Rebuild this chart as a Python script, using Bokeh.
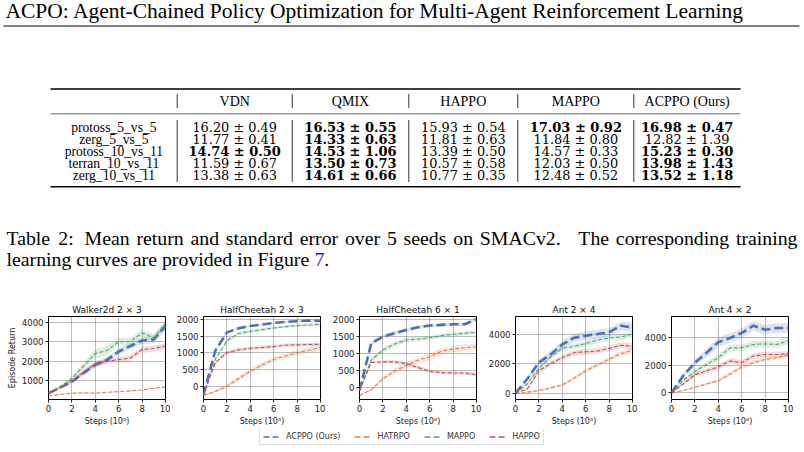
from bokeh.plotting import figure
from bokeh.layouts import column, row
from bokeh.models import Range1d, Legend, LegendItem, FixedTicker
from bokeh.embed import file_html
from bokeh.resources import INLINE
from bokeh.core.properties import value

SERIF = "Liberation Serif"
NUMF = "DejaVu Serif"
SANS = "DejaVu Sans"

# ---------------- text content ----------------
header_title = "ACPO: Agent-Chained Policy Optimization for Multi-Agent Reinforcement Learning"
caption_words = ["Table", "2:", "Mean", "return", "and", "standard", "error", "over", "5", "seeds",
                 "on", "SMACv2.", "The", "corresponding", "training"]
caption_line2 = "learning curves are provided in Figure"
caption_ref = "7"

# ---------------- table data ----------------
table_columns = ["VDN", "QMIX", "HAPPO", "MAPPO", "ACPPO (Ours)"]
table_rows = ["protoss_5_vs_5", "zerg_5_vs_5", "protoss_10_vs_11", "terran_10_vs_11", "zerg_10_vs_11"]
vdn_mean = [16.20, 11.77, 14.74, 11.59, 13.38]
vdn_se = [0.49, 0.41, 0.50, 0.67, 0.63]
qmix_mean = [16.53, 14.33, 14.53, 13.50, 14.61]
qmix_se = [0.55, 0.63, 1.06, 0.73, 0.66]
happo_mean = [15.93, 11.81, 13.39, 10.57, 10.77]
happo_se = [0.54, 0.63, 0.50, 0.58, 0.35]
mappo_mean = [17.03, 11.84, 14.57, 12.03, 12.48]
mappo_se = [0.92, 0.80, 0.33, 0.50, 0.52]
acppo_mean = [16.98, 12.82, 15.23, 13.98, 13.52]
acppo_se = [0.47, 1.39, 0.30, 1.43, 1.18]
vdn_bold = [False, False, True, False, False]
qmix_bold = [True, True, True, True, True]
happo_bold = [False, False, False, False, False]
mappo_bold = [True, False, False, False, False]
acppo_bold = [True, False, True, True, True]

# ---------------- learning-curve data ----------------
steps = [0, 1, 2, 3, 4, 5, 6, 7, 8, 9, 10]
x_ticks = [0, 2, 4, 6, 8, 10]
methods = ["ACPPO (Ours)", "HATRPO", "MAPPO", "HAPPO"]
colors = ["#4c72b0", "#dd8452", "#55a868", "#c44e52"]

walker_title = "Walker2d 2 \u00d7 3"
walker_acppo = [360, 650, 950, 1400, 1820, 2070, 2500, 2780, 3060, 3120, 3800]
walker_hatrpo = [230, 300, 360, 380, 370, 410, 440, 480, 530, 620, 680]
walker_mappo = [370, 700, 1120, 1750, 2400, 2550, 3000, 3000, 3450, 3200, 3950]
walker_happo = [360, 650, 1010, 1440, 1860, 2000, 2080, 2160, 2600, 2650, 2780]
walker_acppo_err = [20, 60, 80, 120, 150, 150, 170, 170, 180, 200, 220]
walker_hatrpo_err = [10, 20, 25, 30, 30, 30, 35, 35, 40, 45, 50]
walker_mappo_err = [20, 60, 100, 180, 230, 230, 200, 200, 180, 200, 150]
walker_happo_err = [20, 60, 80, 120, 130, 130, 140, 150, 160, 160, 170]
walker_yticks = [1000, 2000, 3000, 4000]
walker_yrange = (40, 4290)

hc23_title = "HalfCheetah 2 \u00d7 3"
hc23_acppo = [-240, 1060, 1610, 1730, 1800, 1840, 1890, 1920, 1940, 1960, 1950]
hc23_hatrpo = [-260, -140, 10, 240, 460, 640, 810, 910, 1010, 1080, 1160]
hc23_mappo = [-250, 810, 1360, 1580, 1640, 1690, 1740, 1780, 1810, 1830, 1850]
hc23_happo = [-250, 710, 1010, 1090, 1140, 1160, 1190, 1230, 1240, 1250, 1260]
hc23_acppo_err = [20, 40, 40, 35, 30, 30, 30, 30, 30, 30, 30]
hc23_hatrpo_err = [20, 40, 60, 70, 80, 80, 80, 80, 80, 80, 80]
hc23_mappo_err = [20, 40, 50, 45, 40, 40, 40, 40, 35, 35, 35]
hc23_happo_err = [20, 50, 50, 50, 50, 50, 50, 50, 50, 50, 50]
hc23_yticks = [0, 500, 1000, 1500, 2000]
hc23_yrange = (-380, 2080)

hc61_title = "HalfCheetah 6 \u00d7 1"
hc61_acppo = [-100, 1300, 1500, 1600, 1700, 1780, 1830, 1850, 1870, 1870, 2020]
hc61_hatrpo = [-250, -80, 250, 470, 650, 800, 900, 1070, 1130, 1170, 1200]
hc61_mappo = [-100, 800, 1100, 1280, 1400, 1430, 1470, 1530, 1570, 1600, 1630]
hc61_happo = [-100, 730, 750, 750, 700, 580, 470, 430, 420, 420, 370]
hc61_acppo_err = [20, 60, 60, 60, 50, 50, 50, 50, 50, 50, 40]
hc61_hatrpo_err = [20, 40, 60, 80, 90, 90, 100, 100, 100, 100, 100]
hc61_mappo_err = [20, 70, 80, 80, 70, 70, 60, 60, 60, 60, 60]
hc61_happo_err = [20, 40, 40, 50, 50, 60, 60, 50, 50, 50, 50]
hc61_yticks = [0, 500, 1000, 1500, 2000]
hc61_yrange = (-370, 2100)

ant24_title = "Ant 2 \u00d7 4"
ant24_acppo = [0, 970, 2090, 2650, 3330, 3780, 3930, 4040, 4160, 4610, 4490]
ant24_hatrpo = [-40, 70, 180, 360, 560, 1030, 1530, 1930, 2310, 2700, 2920]
ant24_mappo = [0, 630, 1710, 2470, 3060, 3210, 3390, 3620, 3780, 3840, 4040]
ant24_happo = [0, 290, 1530, 2020, 2430, 2760, 2830, 2880, 3060, 3280, 3210]
ant24_acppo_err = [20, 120, 180, 220, 260, 280, 280, 280, 280, 300, 300]
ant24_hatrpo_err = [20, 40, 60, 80, 100, 120, 140, 150, 160, 170, 180]
ant24_mappo_err = [20, 100, 150, 180, 200, 200, 200, 200, 200, 200, 200]
ant24_happo_err = [20, 80, 150, 180, 200, 200, 200, 200, 200, 200, 200]
ant24_yticks = [0, 2000, 4000]
ant24_yrange = (-430, 5240)

ant42_title = "Ant 4 \u00d7 2"
ant42_acppo = [0, 1250, 2200, 2920, 3690, 4000, 4360, 4890, 4600, 4720, 4720]
ant42_hatrpo = [0, 170, 410, 650, 890, 1370, 1890, 2200, 2440, 2560, 2750]
ant42_mappo = [0, 890, 1560, 2080, 2560, 3280, 3280, 3520, 3570, 3520, 3810]
ant42_happo = [0, 650, 1320, 1600, 1890, 2320, 2200, 2680, 2800, 2800, 2870]
ant42_acppo_err = [20, 150, 250, 300, 350, 350, 350, 350, 350, 350, 350]
ant42_hatrpo_err = [20, 50, 80, 100, 120, 150, 150, 150, 150, 150, 150]
ant42_mappo_err = [20, 120, 180, 200, 250, 250, 250, 250, 250, 250, 250]
ant42_happo_err = [20, 100, 150, 180, 200, 200, 200, 200, 200, 200, 200]
ant42_yticks = [0, 2000, 4000]
ant42_yrange = (-480, 5560)

# Times / Liberation Serif advance widths (per 1000 em) used to justify the caption
TIMES_W = {"T": 611, "a": 444, "b": 500, "l": 278, "e": 444, "2": 500, ":": 278, "M": 889,
           "n": 500, "r": 333, "t": 278, "u": 500, "d": 500, "s": 389, "o": 500, "v": 500,
           "5": 500, "S": 556, "A": 722, "C": 667, ".": 250, "h": 500, "c": 444, "p": 500,
           "i": 278, "g": 500, "F": 556, "7": 500, " ": 250}


def tw(s, size):
    return sum(TIMES_W.get(ch, 500) for ch in s) * size / 1000.0


# ---------------- page (header, table, caption) ----------------
PAGE_H = 292
page = figure(width=804, height=PAGE_H, x_range=Range1d(0, 804), y_range=Range1d(PAGE_H, 0),
              x_axis_location=None, y_axis_location=None, min_border=0,
              toolbar_location=None, output_backend="svg", outline_line_color=None)
page.grid.visible = False


def put(x, y, t, size, font=SERIF, style="normal", align="left", color="black", baseline="middle"):
    page.text(x=x, y=y, text=t, text_font=value(font), text_font_size=size,
              text_font_style=style, text_align=align, text_baseline=baseline, text_color=color)


# running header
put([5], [10.5], [header_title], "21.5px")
page.segment(x0=[3], y0=[25.5], x1=[799], y1=[25.5], line_color="black", line_width=1)

# table geometry
bounds = [50, 176.7, 291.7, 408.3, 517.3, 633.3, 740]
centers = [(a + b) / 2 for a, b in zip(bounds[:-1], bounds[1:])]
head_y = 100.5
row_y = [126.7 + 12.15 * i for i in range(len(table_rows))]

page.segment(x0=[bounds[0]] * 2, y0=[88.5, 186.3], x1=[bounds[-1]] * 2, y1=[88.5, 186.3],
             line_color="black", line_width=1.5)
page.segment(x0=[bounds[0]], y0=[113.3], x1=[bounds[-1]], y1=[113.3],
             line_color="#555555", line_width=0.9)
inner = bounds[1:-1]
page.segment(x0=inner, y0=[93.5] * len(inner), x1=inner, y1=[107.5] * len(inner),
             line_color="black", line_width=0.8)
page.segment(x0=inner, y0=[119.5] * len(inner), x1=inner, y1=[181.5] * len(inner),
             line_color="black", line_width=0.8)

put(centers[1:], [head_y] * len(table_columns), table_columns, "14px", align="center")
put([centers[0]] * len(table_rows), row_y, table_rows, "13.6px", align="center")

cols = [(vdn_mean, vdn_se, vdn_bold), (qmix_mean, qmix_se, qmix_bold),
        (happo_mean, happo_se, happo_bold), (mappo_mean, mappo_se, mappo_bold),
        (acppo_mean, acppo_se, acppo_bold)]
for ci, (means, ses, bolds) in enumerate(cols):
    cx = centers[ci + 1]
    for style, want, fs in (("normal", False, "12.9px"), ("bold", True, "13px")):
        ys = [row_y[i] for i in range(len(means)) if bolds[i] == want]
        ts = [f"{means[i]:.2f} \u00b1 {ses[i]:.2f}" for i in range(len(means)) if bolds[i] == want]
        if ts:
            put([cx] * len(ts), ys, ts, fs, font=NUMF, style=style, align="center")

# caption, line 1 justified between the page margins
CAP = 19.8
cap_left, cap_right = 6.0, 797.0
gap_w = [1, 1.6, 1, 1, 1, 1, 1, 1, 1, 1, 1, 2.6, 1, 1]
natural = sum(tw(w, CAP) for w in caption_words)
unit = (cap_right - cap_left - natural) / sum(gap_w)
xs, xpos = [], cap_left
for i, w in enumerate(caption_words):
    xs.append(xpos)
    xpos += tw(w, CAP) + (gap_w[i] * unit if i < len(gap_w) else 0)
put(xs, [237.5] * len(xs), caption_words, f"{CAP}px")
put([cap_left], [258.5], [caption_line2], f"{CAP}px")
x7 = cap_left + tw(caption_line2 + " ", CAP)
put([x7], [258.5], [caption_ref], f"{CAP}px", color="#1f1fd0")
put([x7 + tw("7", CAP)], [258.5], ["."], f"{CAP}px")

# ---------------- learning-curve panels ----------------
FRAME_W, FRAME_H = 117, 83
TOP_B, BOT_B, RIGHT_B = 24, 30, 5


def panel(title, series, errs, yr, yticks, left_border, ylabel):
    p = figure(width=left_border + FRAME_W + RIGHT_B, height=TOP_B + FRAME_H + BOT_B,
               x_range=Range1d(0, 10), y_range=Range1d(*yr),
               min_border_left=left_border, min_border_right=RIGHT_B,
               min_border_top=TOP_B, min_border_bottom=BOT_B,
               toolbar_location=None, output_backend="svg")
    p.title.text = title
    p.title.align = "center"
    p.title.text_font = SANS
    p.title.text_font_size = "9px"
    p.title.text_font_style = "normal"
    p.title.text_color = "#111111"
    p.title.standoff = 4
    p.xaxis.ticker = FixedTicker(ticks=x_ticks, minor_ticks=[])
    p.yaxis.ticker = FixedTicker(ticks=yticks, minor_ticks=[])
    for ax in (p.xaxis[0], p.yaxis[0]):
        ax.axis_line_color = None
        ax.major_tick_out = 3
        ax.major_tick_in = 0
        ax.minor_tick_out = 0
        ax.minor_tick_in = 0
        ax.major_tick_line_color = "#222222"
        ax.major_label_text_font = SANS
        ax.major_label_text_font_size = "8.5px"
        ax.major_label_text_color = "#222222"
        ax.major_label_standoff = 2
        ax.axis_label_text_font = SANS
        ax.axis_label_text_font_size = "8px"
        ax.axis_label_text_font_style = "normal"
        ax.axis_label_text_color = "#222222"
        ax.axis_label_standoff = 2
    p.xaxis.axis_label = "Steps (10\u2076)"
    if ylabel:
        p.yaxis.axis_label = "Episode Return"
    p.outline_line_color = "black"
    p.outline_line_width = 1
    p.outline_line_alpha = 1
    p.grid.grid_line_color = "#555555"
    p.grid.grid_line_dash = "1 1"
    p.grid.grid_line_width = 0.8
    for k, (vals, err, c) in enumerate(zip(series, errs, colors)):
        lo = [v - e for v, e in zip(vals, err)]
        hi = [v + e for v, e in zip(vals, err)]
        p.varea(x=steps, y1=lo, y2=hi, fill_color=c, fill_alpha=0.2)
        if k == 0:
            p.line(steps, vals, line_color=c, line_width=2.6, line_dash="9 4")
        else:
            p.line(steps, vals, line_color=c, line_width=1.1, line_dash="4 2")
    return p


panels = [
    panel(walker_title, [walker_acppo, walker_hatrpo, walker_mappo, walker_happo],
          [walker_acppo_err, walker_hatrpo_err, walker_mappo_err, walker_happo_err],
          walker_yrange, walker_yticks, 48, True),
    panel(hc23_title, [hc23_acppo, hc23_hatrpo, hc23_mappo, hc23_happo],
          [hc23_acppo_err, hc23_hatrpo_err, hc23_mappo_err, hc23_happo_err],
          hc23_yrange, hc23_yticks, 33, False),
    panel(hc61_title, [hc61_acppo, hc61_hatrpo, hc61_mappo, hc61_happo],
          [hc61_acppo_err, hc61_hatrpo_err, hc61_mappo_err, hc61_happo_err],
          hc61_yrange, hc61_yticks, 34, False),
    panel(ant24_title, [ant24_acppo, ant24_hatrpo, ant24_mappo, ant24_happo],
          [ant24_acppo_err, ant24_hatrpo_err, ant24_mappo_err, ant24_happo_err],
          ant24_yrange, ant24_yticks, 34, False),
    panel(ant42_title, [ant42_acppo, ant42_hatrpo, ant42_mappo, ant42_happo],
          [ant42_acppo_err, ant42_hatrpo_err, ant42_mappo_err, ant42_happo_err],
          ant42_yrange, ant42_yticks, 34, False),
]

# ---------------- shared legend ----------------
leg_fig = figure(width=804, height=23, x_range=Range1d(0, 1), y_range=Range1d(0, 1),
                 x_axis_location=None, y_axis_location=None, min_border=0,
                 toolbar_location=None, output_backend="svg", outline_line_color=None)
leg_fig.grid.visible = False
items = []
for m, c in zip(methods, colors):
    # handle renderers kept outside the visible range; only their legend glyphs show
    r = leg_fig.line(x=[5, 6], y=[5, 5], line_color=c, line_width=1.5, line_dash="6 3")
    items.append(LegendItem(label=m, renderers=[r]))
legend = Legend(items=items, orientation="horizontal", location=(259, 7),
                label_text_font=SANS, label_text_font_size="8px", label_text_color="#333333",
                glyph_width=16, glyph_height=9, label_height=9, label_standoff=7,
                spacing=14, padding=3, margin=0,
                border_line_color="#bbbbbb", border_line_width=1, background_fill_alpha=1)
leg_fig.add_layout(legend, "center")

layout = column(page, row(*panels), leg_fig)
open("out.html", "w").write(file_html(layout, INLINE))
